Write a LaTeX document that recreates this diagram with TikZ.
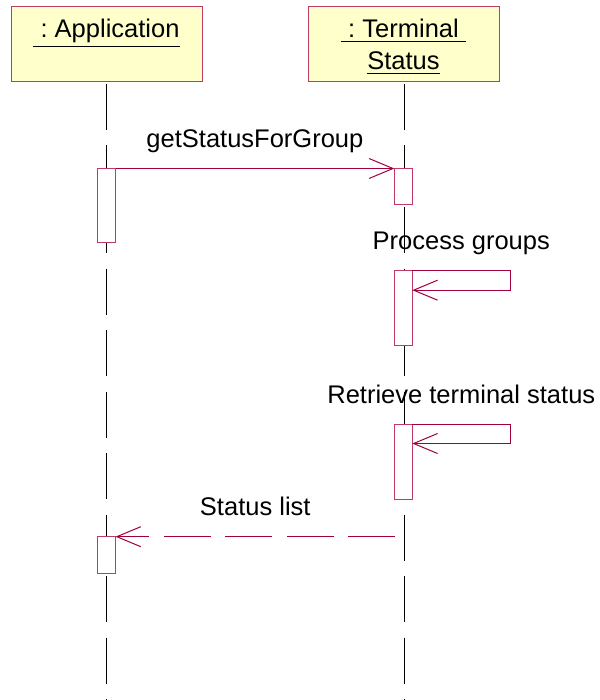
\documentclass[tikz,border=0pt]{standalone}
\usepackage{fontspec}
\setmainfont{Liberation Sans}
\usetikzlibrary{arrows.meta}
\definecolor{msgred}{RGB}{160,0,60}
\definecolor{boxred}{RGB}{190,60,100}
\definecolor{headfill}{RGB}{255,255,204}
\newcommand{\uline}[1]{\vtop{\hbox{#1}\kern2.5pt\hrule height 1.3pt}}

\begin{document}
\begin{tikzpicture}[>={Straight Barb[length=24pt,width=20pt]}, x=1pt, y=-1pt, line width=1pt]
    \tikzstyle{headbox}=[rectangle,draw=boxred,fill=headfill,minimum width=191pt,minimum height=75pt,inner sep=0pt,outer sep=0pt,anchor=north west]
    \tikzstyle{act}=[rectangle,draw=boxred,fill=white,minimum width=18pt,inner sep=0pt,outer sep=0pt,anchor=north]
    \tikzstyle{headtext}=[anchor=base,inner sep=0pt,font=\fontsize{25.5}{30}\selectfont]
    \tikzstyle{lbl}=[anchor=base,inner sep=0pt,yshift=21pt,font=\fontsize{25.5}{30}\selectfont]
    \tikzstyle{lifeline}=[draw=black,dash pattern=on 46pt off 15.5pt]
    \tikzstyle{msg}=[draw=msgred,->]
    \tikzstyle{ret}=[draw=msgred,->,dash pattern=on 47pt off 14.5pt]
    \useasboundingbox (0,0) rectangle (599,700);
    \node[headbox] (app) at (11,7) {};
    \node[headbox] (term) at (308,7) {};
    \node[headtext] (apptitle) at ([yshift=-31pt]app.north) {\uline{\ :\ Application}};
    \node[headtext] (termtitle) at ([yshift=-31pt]term.north) {\uline{\ :\ Terminal\ }};
    \node[headtext] (termtitle2) at ([yshift=-32pt]termtitle.base) {\uline{Status}};
    \coordinate (bottom) at (0,700);
    \draw[lifeline] ([yshift=-2pt]app.south) -- (app.south |- bottom);
    \draw[lifeline] ([xshift=1pt,yshift=-2pt]term.south) -- ([xshift=1pt]term.south |- bottom);
    \node[act,minimum height=74.5pt] (appact1) at (106.5,168.5) {};
    \node[act,minimum height=36.5pt] (termact1) at (403.3,168.5) {};
    \node[act,minimum height=75pt] (termact2) at (403.3,270.7) {};
    \node[act,minimum height=75pt] (termact3) at (403.3,424) {};
    \node[act,minimum height=36.5pt] (appact2) at (106.5,536.7) {};
    \draw[msg] (appact1.north east) -- node[lbl]{getStatusForGroup} (termact1.north west);
    \draw[msg] (termact2.north east) -- node[lbl]{Process groups} ++(98,0) -- ++(0,19.5) -- ([yshift=-19.5pt]termact2.north east);
    \draw[msg] (termact3.north east) -- node[lbl]{Retrieve terminal status} ++(98,0) -- ++(0,19.5) -- ([yshift=-19.5pt]termact3.north east);
    \coordinate (retsrc) at (395,536.7);
    \draw[ret] (retsrc) -- node[lbl]{Status list} (appact2.north east);
  \end{tikzpicture}
\end{document}
